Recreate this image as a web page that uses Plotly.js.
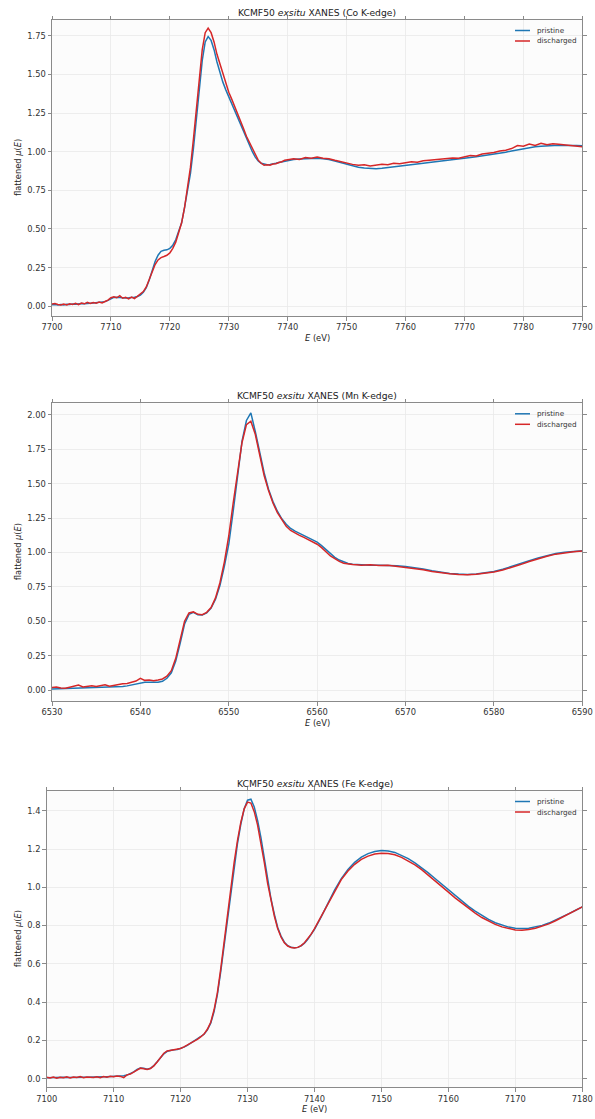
<!DOCTYPE html>
<html>
<head>
<meta charset="utf-8">
<script src="https://cdn.plot.ly/plotly-3.0.1.min.js"></script>
<style>
  html, body { margin: 0; padding: 0; background: #ffffff; }
  #chart { width: 595px; height: 1119px; }
</style>
</head>
<body>
<div id="chart"></div>
<script>
// ---- sampling grids (eV): fine steps across the edge, coarser beyond ----
function grid(segments) {
  const out = [];
  segments.forEach(([a, b, step]) => {
    const n = Math.round((b - a) / step);
    for (let i = 0; i <= n; i++) out.push(+(a + i * step).toFixed(2));
  });
  return out;
}

const seriesNames = ['pristine', 'discharged'];

// ---- Co K-edge ----
const energyCo = grid([[7700, 7740, 0.5], [7741, 7790, 1]]);
const coPristine = [
  0.010,0.012,0.008,0.011,0.009,0.013,0.012,0.015,0.013,0.016,
  0.018,0.017,0.020,0.019,0.021,0.022,0.024,0.026,0.030,0.038,
  0.050,0.057,0.058,0.056,0.055,0.054,0.055,0.056,0.058,0.063,
  0.072,0.090,0.120,0.170,0.230,0.290,0.330,0.355,0.362,0.365,
  0.375,0.395,0.430,0.480,0.540,0.640,0.750,0.860,1.020,1.210,
  1.410,1.590,1.710,1.745,1.720,1.660,1.580,1.510,1.450,1.400,
  1.355,1.310,1.265,1.220,1.175,1.130,1.085,1.040,1.000,0.965,
  0.940,0.925,0.918,0.915,0.918,0.920,0.925,0.930,0.935,0.940,
  0.945,
  0.950,0.953,0.955,0.957,0.958,0.955,0.950,0.940,0.930,0.918,
  0.908,0.900,0.895,0.892,0.890,0.893,0.897,0.902,0.907,0.912,
  0.916,0.920,0.925,0.930,0.934,0.938,0.942,0.947,0.952,0.957,
  0.962,0.968,0.973,0.978,0.985,0.990,0.997,1.005,1.012,1.020,
  1.027,1.032,1.035,1.038,1.040,1.042,1.040,1.042,1.040,1.038
];
const coDischarged = [
  0.015,0.018,0.012,0.008,0.014,0.009,0.016,0.011,0.019,0.010,
  0.021,0.016,0.026,0.018,0.024,0.020,0.027,0.022,0.031,0.040,
  0.055,0.062,0.055,0.068,0.052,0.058,0.048,0.060,0.050,0.065,
  0.075,0.095,0.125,0.170,0.220,0.270,0.300,0.315,0.322,0.330,
  0.345,0.375,0.415,0.470,0.540,0.640,0.760,0.900,1.080,1.280,
  1.480,1.660,1.770,1.800,1.770,1.710,1.630,1.570,1.500,1.440,
  1.385,1.340,1.295,1.250,1.200,1.150,1.100,1.060,1.020,0.980,
  0.945,0.925,0.912,0.915,0.912,0.920,0.922,0.930,0.935,0.945,
  0.948,
  0.955,0.950,0.962,0.958,0.965,0.958,0.955,0.945,0.935,0.925,
  0.918,0.912,0.915,0.908,0.912,0.918,0.915,0.925,0.922,0.930,
  0.935,0.932,0.942,0.945,0.948,0.952,0.955,0.960,0.958,0.968,
  0.975,0.972,0.985,0.990,0.995,1.005,1.010,1.020,1.040,1.035,
  1.050,1.040,1.055,1.045,1.052,1.048,1.045,1.040,1.035,1.032
];

// ---- Mn K-edge ----
const energyMn = grid([[6530, 6565, 0.5], [6566, 6590, 1]]);
const mnPristine = [
  0.008,0.009,0.009,0.010,0.010,0.011,0.012,0.013,0.014,0.015,
  0.016,0.017,0.018,0.019,0.021,0.023,0.026,0.030,0.036,0.045,
  0.053,0.057,0.056,0.055,0.056,0.063,0.085,0.125,0.210,0.340,
  0.480,0.550,0.565,0.548,0.545,0.560,0.595,0.660,0.760,0.900,
  1.060,1.300,1.570,1.810,1.960,2.015,1.880,1.720,1.580,1.460,
  1.370,1.300,1.245,1.205,1.175,1.155,1.140,1.125,1.110,1.095,
  1.075,1.050,1.020,0.990,0.965,0.945,0.930,0.920,0.915,0.912,
  0.910,
  0.908,0.907,0.906,0.903,0.898,0.890,0.880,0.868,0.857,0.848,
  0.843,0.840,0.843,0.850,0.862,0.878,0.897,0.918,0.940,0.960,
  0.978,0.992,1.002,1.008,1.012
];
const mnDischarged = [
  0.018,0.022,0.015,0.012,0.020,0.026,0.036,0.022,0.028,0.030,
  0.026,0.034,0.038,0.027,0.035,0.042,0.046,0.048,0.058,0.065,
  0.085,0.070,0.072,0.068,0.073,0.080,0.100,0.140,0.230,0.360,
  0.500,0.560,0.568,0.550,0.548,0.565,0.600,0.670,0.780,0.930,
  1.120,1.360,1.600,1.800,1.930,1.955,1.860,1.700,1.560,1.450,
  1.360,1.290,1.235,1.190,1.160,1.140,1.125,1.110,1.095,1.080,
  1.060,1.035,1.005,0.975,0.955,0.935,0.922,0.915,0.912,0.910,
  0.908,
  0.910,0.905,0.908,0.900,0.895,0.885,0.875,0.862,0.852,0.845,
  0.840,0.838,0.842,0.848,0.858,0.872,0.890,0.912,0.935,0.955,
  0.972,0.988,0.998,1.005,1.010
];

// ---- Fe K-edge ----
const energyFe = grid([[7100, 7140, 0.5], [7141, 7180, 1]]);
const fePristine = [
  0.005,0.006,0.005,0.006,0.006,0.007,0.006,0.007,0.007,0.008,
  0.007,0.008,0.008,0.009,0.008,0.009,0.009,0.010,0.010,0.011,
  0.012,0.012,0.013,0.015,0.019,0.026,0.036,0.048,0.056,0.055,
  0.050,0.054,0.068,0.088,0.110,0.130,0.143,0.149,0.151,0.153,
  0.158,0.165,0.174,0.185,0.196,0.206,0.217,0.232,0.255,0.290,
  0.350,0.440,0.560,0.700,0.840,0.980,1.110,1.230,1.330,1.410,
  1.455,1.460,1.420,1.350,1.260,1.150,1.040,0.940,0.860,0.790,
  0.745,0.713,0.695,0.687,0.684,0.686,0.694,0.708,0.728,0.752,
  0.780,
  0.845,0.915,0.985,1.045,1.093,1.130,1.158,1.176,1.187,1.192,
  1.190,1.182,1.168,1.150,1.128,1.103,1.075,1.046,1.016,0.986,
  0.956,0.928,0.900,0.875,0.852,0.832,0.815,0.802,0.792,0.786,
  0.784,0.786,0.792,0.801,0.813,0.828,0.845,0.862,0.880,0.898
];
const feDischarged = [
  0.008,0.004,0.009,0.003,0.008,0.005,0.010,0.004,0.009,0.006,
  0.011,0.005,0.009,0.007,0.006,0.010,0.005,0.011,0.008,0.013,
  0.010,0.014,0.012,0.006,0.020,0.024,0.034,0.047,0.055,0.052,
  0.048,0.053,0.067,0.087,0.112,0.133,0.145,0.148,0.150,0.154,
  0.158,0.166,0.175,0.184,0.197,0.205,0.218,0.233,0.258,0.295,
  0.360,0.450,0.575,0.720,0.860,1.000,1.130,1.245,1.340,1.410,
  1.445,1.440,1.395,1.325,1.235,1.130,1.020,0.925,0.850,0.785,
  0.740,0.710,0.693,0.685,0.683,0.686,0.695,0.710,0.730,0.755,
  0.784,
  0.848,0.916,0.982,1.040,1.085,1.120,1.146,1.163,1.174,1.178,
  1.177,1.170,1.156,1.138,1.117,1.092,1.064,1.035,1.005,0.975,
  0.945,0.917,0.890,0.865,0.842,0.823,0.806,0.793,0.783,0.777,
  0.776,0.779,0.786,0.796,0.809,0.825,0.843,0.861,0.880,0.898
];

const edgeLabels = ['Co K-edge', 'Mn K-edge', 'Fe K-edge'];
const xRanges = [[7700, 7790], [6530, 6590], [7100, 7180]];
const yRanges = [[-0.063, 1.852], [-0.08, 2.085], [-0.045, 1.503]];
const yDticks = [0.25, 0.25, 0.2];
const yFormats = ['.2f', '.2f', '.1f'];

// ---- page geometry in pixels ----
const W = 595, H = 1119;
const panels = [
  { left: 52,   right: 582.3, top: 20,    bottom: 316 },
  { left: 52,   right: 582.3, top: 403.3, bottom: 701 },
  { left: 46.7, right: 582.3, top: 791,   bottom: 1087.3 }
];
const px = x => x / W;
const py = y => 1 - y / H;

const colors = ['#1f77b4', '#d62728'];
const fontFam = 'DejaVu Sans, Verdana, sans-serif';

const datasets = [
  [energyCo, coPristine, coDischarged],
  [energyMn, mnPristine, mnDischarged],
  [energyFe, fePristine, feDischarged]
];

const traces = [];
datasets.forEach(([e, p, d], i) => {
  const sfx = i === 0 ? '' : String(i + 1);
  [p, d].forEach((vals, k) => {
    traces.push({
      type: 'scatter', mode: 'lines',
      x: e, y: vals, name: seriesNames[k],
      xaxis: 'x' + sfx, yaxis: 'y' + sfx,
      line: { color: colors[k], width: 1.5 },
      showlegend: false, hoverinfo: 'skip'
    });
  });
});

const axisCommon = {
  showline: true, linecolor: '#8a8a8a', linewidth: 1, mirror: 'ticks',
  ticks: 'outside', ticklen: 3.5, tickwidth: 1, tickcolor: '#8a8a8a',
  showgrid: true, gridcolor: '#e9e9e9', gridwidth: 0.8, zeroline: false,
  tickfont: { family: fontFam, size: 8.3, color: '#333333' },
  fixedrange: true
};

const layout = {
  width: W, height: H,
  margin: { l: 0, r: 0, t: 0, b: 0, pad: 0 },
  paper_bgcolor: '#ffffff', plot_bgcolor: '#fcfcfc',
  showlegend: false,
  annotations: [], shapes: []
};

panels.forEach((p, i) => {
  const sfx = i === 0 ? '' : String(i + 1);
  layout['xaxis' + sfx] = Object.assign({}, axisCommon, {
    domain: [px(p.left), px(p.right)], anchor: 'y' + sfx,
    range: xRanges[i], tick0: xRanges[i][0], dtick: 10
  });
  layout['yaxis' + sfx] = Object.assign({}, axisCommon, {
    domain: [py(p.bottom), py(p.top)], anchor: 'x' + sfx,
    range: yRanges[i], tick0: 0, dtick: yDticks[i], tickformat: yFormats[i]
  });
  const cx = (p.left + p.right) / 2;
  // panel title
  layout.annotations.push({
    xref: 'paper', yref: 'paper', x: px(cx), y: py(p.top - 7.5),
    xanchor: 'center', yanchor: 'middle', showarrow: false,
    text: 'KCMF50 <i>exsitu</i> XANES (' + edgeLabels[i] + ')',
    font: { family: fontFam, size: 9.2, color: '#222222' }
  });
  // x label
  layout.annotations.push({
    xref: 'paper', yref: 'paper', x: px(cx), y: py(p.bottom + 22),
    xanchor: 'center', yanchor: 'middle', showarrow: false,
    text: '<i>E</i> (eV)',
    font: { family: fontFam, size: 8.3, color: '#222222' }
  });
  // y label
  layout.annotations.push({
    xref: 'paper', yref: 'paper', x: px(18), y: py((p.top + p.bottom) / 2),
    xanchor: 'center', yanchor: 'middle', showarrow: false, textangle: -90,
    text: 'flattened <i>μ</i>(<i>E</i>)',
    font: { family: fontFam, size: 8.3, color: '#222222' }
  });
  // legend entries
  seriesNames.forEach((name, k) => {
    const yy = p.top + 10.5 + 10.5 * k;
    layout.shapes.push({
      type: 'line', xref: 'paper', yref: 'paper',
      x0: px(515), x1: px(530), y0: py(yy), y1: py(yy),
      line: { color: colors[k], width: 1.5 }
    });
    layout.annotations.push({
      xref: 'paper', yref: 'paper', x: px(535), y: py(yy),
      xanchor: 'left', yanchor: 'middle', showarrow: false,
      text: name, font: { family: fontFam, size: 7.2, color: '#333333' }
    });
  });
});

Plotly.newPlot('chart', traces, layout, { staticPlot: true, displayModeBar: false });
</script>
</body>
</html>
